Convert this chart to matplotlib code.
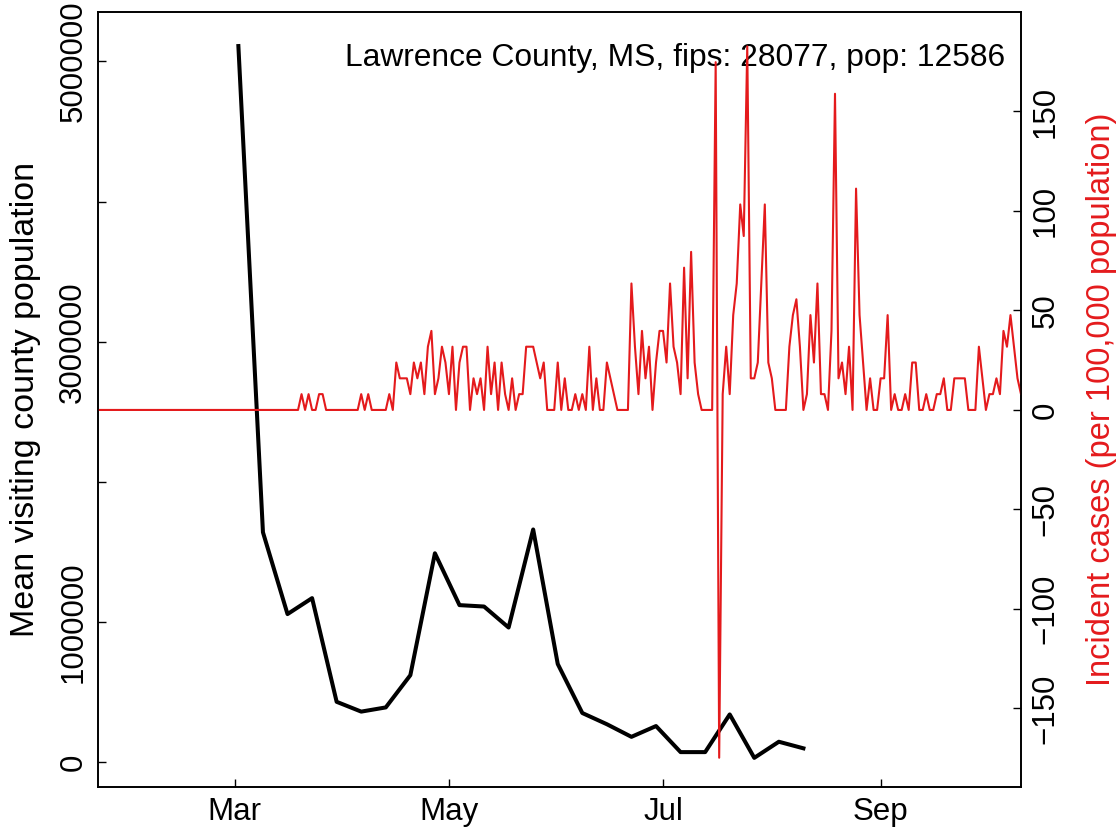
import matplotlib
matplotlib.use('Agg')
import matplotlib.pyplot as plt
import pandas as pd

plt.rcParams['font.family'] = ['Liberation Sans', 'DejaVu Sans']

county_label = "Lawrence County, MS, fips: 28077, pop: 12586"
county_pop = 12586

# weekly mean visiting county population (weeks starting Monday)
visit_start = "2020-03-02"
visit_pop = [5110000, 1640000, 1056000, 1170000, 430000, 360000, 390000, 620000,
             1490000, 1120000, 1110000, 960000, 1660000, 700000, 350000, 270000,
             180000, 257000, 71000, 71000, 340000, 30000, 145000, 98000]

# daily new case counts, starting 2020-01-22
case_start = "2020-01-22"
daily_cases = [0, 0, 0, 0, 0, 0, 0, 0, 0, 0, 0, 0, 0, 0, 0, 0, 0, 0, 0, 0,
               0, 0, 0, 0, 0, 0, 0, 0, 0, 0, 0, 0, 0, 0, 0, 0, 0, 0, 0, 0,
               0, 0, 0, 0, 0, 0, 0, 0, 0, 0, 0, 0, 0, 0, 0, 0, 0, 0,
               1, 0, 1, 0, 0, 1, 1, 0,
               0, 0, 0, 0, 0, 0, 0, 0, 0,
               1, 0, 1, 0,
               0, 0, 0, 0,
               1, 0, 3, 2, 2, 2, 1,
               3, 2, 3, 1, 4, 5, 1, 2, 4, 3, 1, 4, 0, 3, 4, 4,
               0, 2, 1, 2, 0, 4, 1, 3, 0, 3, 1, 0, 2, 0, 1, 1, 4, 4, 4, 3,
               2, 3, 0, 0, 0, 3, 0, 2, 0, 0, 1, 0, 1, 0, 4, 0, 2, 0, 0, 3,
               2, 1, 0, 0, 0, 0,
               8, 4, 1, 5, 2, 4, 0, 3, 5, 5, 3, 8, 4, 3, 1, 9, 2, 10, 3, 1,
               0, 0, 0, 0, 22, -22,
               1, 4, 1, 6, 8, 13, 11, 23, 2, 2, 3, 8, 13, 3, 2, 0, 0, 0, 0, 4,
               6, 7,
               4, 0, 1, 6, 3, 8, 1, 1, 0, 5, 20, 2, 3, 1, 4, 0, 14, 6, 3, 0,
               2, 0, 0, 2, 2, 6, 0, 1, 0, 0, 1, 0, 3, 3, 0, 0, 1, 0, 0, 1,
               1, 2, 0, 0, 2, 2, 2, 2, 0, 0, 0, 4, 2, 0, 1, 1, 2, 1, 5, 4,
               6, 4, 2, 1]

month_ticks = ["2020-03-01", "2020-05-01", "2020-07-01", "2020-09-01"]
month_labels = ["Mar", "May", "Jul", "Sep"]
left_ticks = [0, 1000000, 2000000, 3000000, 4000000, 5000000]
left_labels = ["0", "1000000", "", "3000000", "", "5000000"]
right_ticks = [-150, -100, -50, 0, 50, 100, 150]

red = '#E41A1C'
fs = 22.5

visit_dates = pd.date_range(visit_start, periods=len(visit_pop), freq='7D')
case_dates = pd.date_range(case_start, periods=len(daily_cases), freq='D')
case_rate = [c * 100000 / county_pop for c in daily_cases]

fig = plt.figure(figsize=(11.19, 8.30), dpi=100)
ax1 = fig.add_axes([98 / 1119, 43 / 830, 923 / 1119, 775 / 830])
ax1.plot(visit_dates, visit_pop, color='black', lw=2.9)
ax1.set_xlim(case_dates[0], case_dates[-1])
ax1.set_ylim(-178000, 5353000)
ax1.set_yticks(left_ticks, labels=left_labels)
ax1.set_xticks(pd.to_datetime(month_ticks), labels=month_labels)
ax1.tick_params(direction='in', length=6, width=1, labelsize=fs, pad=7)
for lab in ax1.get_yticklabels():
    lab.set_rotation(90)
    lab.set_va('center')
ax1.set_ylabel("Mean visiting county population", fontsize=24.5)
ax1.yaxis.set_label_coords(-0.062, 0.5)
ax1.text(0.9827, 0.9406, county_label, transform=ax1.transAxes,
         ha='right', va='center', fontsize=22.9)

ax2 = ax1.twinx()
ax2.plot(case_dates, case_rate, color=red, lw=1.5)
ax2.set_ylim(-189.5, 200)
ax2.set_yticks(right_ticks)
ax2.tick_params(direction='in', length=6, width=1, labelsize=fs, pad=7)
for lab in ax2.get_yticklabels():
    lab.set_rotation(90)
    lab.set_va('center')
ax2.set_ylabel("Incident cases (per 100,000 population)", fontsize=23.5, color=red)
ax2.yaxis.set_label_coords(1.0704, 0.5)

for ax in (ax1, ax2):
    for sp in ax.spines.values():
        sp.set_linewidth(1.2)

fig.savefig('out.png', dpi=100)
